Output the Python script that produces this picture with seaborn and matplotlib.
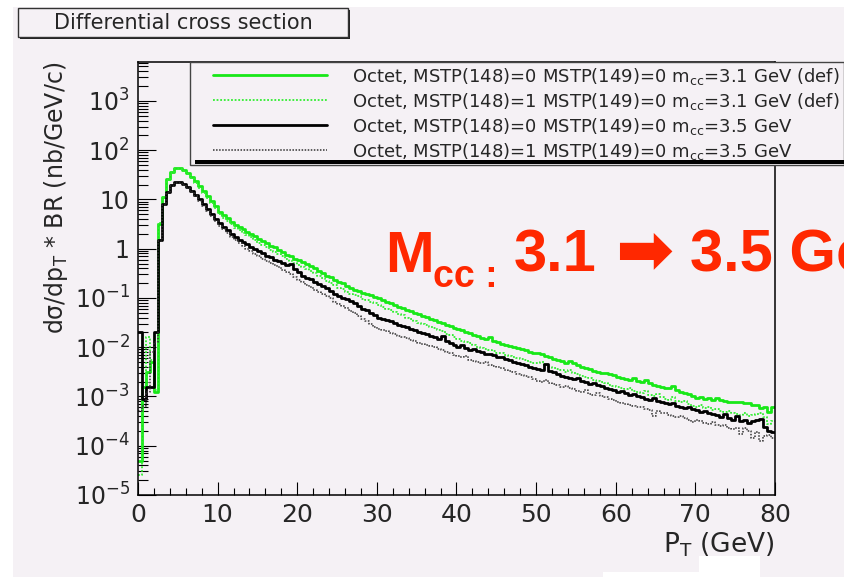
import numpy as np
import pandas as pd
import matplotlib
matplotlib.use("Agg")
import matplotlib.pyplot as plt
from matplotlib.patches import Rectangle
from matplotlib.lines import Line2D
from matplotlib.legend_handler import HandlerLine2D
from matplotlib.ticker import FixedLocator, LogLocator, MultipleLocator, NullFormatter
import seaborn as sns

# pT binning of the histograms (GeV)
pt_min, pt_max, bin_width = 0.0, 80.0, 0.5

# log10 of dsigma/dpT * BR (nb/GeV/c) per 0.5 GeV bin
octet_148_0_m31 = [
    -4.30, -2.80, -2.50, -2.30, -2.90, 0.50, 1.05, 1.42, 1.56, 1.64,
    1.64, 1.60, 1.54, 1.46, 1.37, 1.27, 1.17, 1.06, 0.96, 0.86,
    0.75, 0.68, 0.62, 0.55, 0.49, 0.44, 0.39, 0.34, 0.30, 0.26,
    0.20, 0.16, 0.12, 0.06, 0.03, -0.03, -0.07, -0.13, -0.15, -0.20,
    -0.22, -0.27, -0.32, -0.35, -0.40, -0.46, -0.49, -0.55, -0.58, -0.64,
    -0.68, -0.70, -0.76, -0.80, -0.84, -0.86, -0.90, -0.92, -0.95, -0.98,
    -1.00, -1.05, -1.09, -1.11, -1.15, -1.18, -1.20, -1.24, -1.27, -1.30,
    -1.33, -1.36, -1.39, -1.42, -1.45, -1.48, -1.51, -1.54, -1.57, -1.60,
    -1.63, -1.66, -1.69, -1.72, -1.75, -1.78, -1.81, -1.84, -1.79, -1.87,
    -1.90, -1.93, -1.95, -1.97, -1.99, -2.01, -2.03, -2.06, -2.09, -2.11,
    -2.12, -2.14, -2.17, -2.20, -2.23, -2.25, -2.28, -2.32, -2.28, -2.33,
    -2.37, -2.40, -2.42, -2.45, -2.48, -2.50, -2.52, -2.53, -2.55, -2.57,
    -2.60, -2.62, -2.65, -2.67, -2.63, -2.69, -2.71, -2.66, -2.72, -2.76,
    -2.78, -2.80, -2.82, -2.83, -2.78, -2.86, -2.90, -2.93, -2.95, -2.99,
    -3.03, -3.01, -3.06, -3.03, -3.07, -3.04, -3.08, -3.10, -3.11, -3.11,
    -3.11, -3.12, -3.13, -3.14, -3.18, -3.17, -3.23, -3.21, -3.32, -3.22,
]
octet_148_1_m31 = [
    -4.60, -2.90, -1.80, -2.26, -2.87, 0.52, 1.05, 1.40, 1.54, 1.62,
    1.62, 1.58, 1.51, 1.43, 1.34, 1.24, 1.13, 1.02, 0.92, 0.82,
    0.70, 0.63, 0.56, 0.50, 0.43, 0.38, 0.32, 0.27, 0.23, 0.18,
    0.12, 0.08, 0.03, -0.02, -0.06, -0.11, -0.15, -0.21, -0.24, -0.30,
    -0.33, -0.37, -0.42, -0.46, -0.50, -0.56, -0.60, -0.65, -0.69, -0.74,
    -0.79, -0.82, -0.87, -0.91, -0.95, -0.97, -1.02, -1.05, -1.08, -1.11,
    -1.14, -1.18, -1.22, -1.25, -1.29, -1.33, -1.35, -1.40, -1.42, -1.46,
    -1.50, -1.52, -1.55, -1.58, -1.61, -1.65, -1.68, -1.73, -1.76, -1.80,
    -1.84, -1.87, -1.90, -1.92, -1.96, -1.99, -2.02, -2.04, -2.06, -2.08,
    -2.11, -2.12, -2.15, -2.18, -2.20, -2.22, -2.24, -2.26, -2.29, -2.32,
    -2.33, -2.30, -2.36, -2.40, -2.42, -2.44, -2.47, -2.50, -2.46, -2.52,
    -2.55, -2.58, -2.60, -2.62, -2.66, -2.69, -2.70, -2.73, -2.76, -2.78,
    -2.80, -2.83, -2.85, -2.82, -2.88, -2.91, -2.93, -2.88, -2.96, -2.99,
    -2.94, -3.02, -3.05, -3.07, -3.02, -3.09, -3.12, -3.10, -3.16, -3.19,
    -3.21, -3.18, -3.24, -3.22, -3.27, -3.25, -3.29, -3.31, -3.30, -3.34,
    -3.35, -3.37, -3.34, -3.40, -3.38, -3.36, -3.33, -3.41, -3.55, -3.50,
]
octet_148_0_m35 = [
    -1.69, -3.05, -2.80, -2.80, -1.69, 0.18, 0.90, 1.15, 1.29, 1.36,
    1.36, 1.32, 1.26, 1.18, 1.09, 1.00, 0.91, 0.81, 0.71, 0.61,
    0.52, 0.44, 0.37, 0.30, 0.24, 0.18, 0.13, 0.09, 0.04, 0.00,
    -0.05, -0.09, -0.14, -0.17, -0.22, -0.25, -0.30, -0.33, -0.31, -0.42,
    -0.48, -0.55, -0.59, -0.62, -0.67, -0.72, -0.76, -0.80, -0.85, -0.92,
    -0.97, -1.00, -1.03, -1.06, -1.10, -1.16, -1.22, -1.25, -1.30, -1.34,
    -1.40, -1.42, -1.44, -1.47, -1.51, -1.54, -1.57, -1.59, -1.63, -1.66,
    -1.70, -1.72, -1.74, -1.77, -1.79, -1.83, -1.78, -1.87, -1.92, -1.96,
    -1.99, -1.96, -2.02, -2.05, -2.03, -2.08, -2.10, -2.13, -2.14, -2.16,
    -2.20, -2.19, -2.23, -2.26, -2.30, -2.32, -2.35, -2.37, -2.40, -2.42,
    -2.45, -2.47, -2.35, -2.48, -2.51, -2.55, -2.58, -2.61, -2.63, -2.65,
    -2.62, -2.68, -2.71, -2.74, -2.72, -2.77, -2.79, -2.82, -2.85, -2.87,
    -2.90, -2.88, -2.93, -2.96, -2.94, -2.99, -3.02, -3.05, -3.07, -3.04,
    -3.09, -3.12, -3.13, -3.15, -3.14, -3.19, -3.22, -3.24, -3.21, -3.26,
    -3.28, -3.31, -3.29, -3.33, -3.35, -3.38, -3.42, -3.36, -3.44, -3.47,
    -3.40, -3.49, -3.47, -3.53, -3.50, -3.47, -3.45, -3.62, -3.70, -3.72,
]
octet_148_1_m35 = [
    -3.30, -3.20, -2.90, -2.10, -1.90, 0.15, 0.88, 1.13, 1.27, 1.34,
    1.34, 1.30, 1.23, 1.15, 1.06, 0.96, 0.87, 0.77, 0.67, 0.57,
    0.47, 0.39, 0.31, 0.24, 0.17, 0.11, 0.05, 0.00, -0.05, -0.10,
    -0.15, -0.20, -0.25, -0.29, -0.34, -0.38, -0.43, -0.47, -0.51, -0.57,
    -0.63, -0.67, -0.73, -0.77, -0.83, -0.87, -0.92, -0.97, -1.01, -1.08,
    -1.12, -1.17, -1.21, -1.26, -1.31, -1.37, -1.42, -1.47, -1.53, -1.58,
    -1.63, -1.65, -1.68, -1.71, -1.74, -1.77, -1.80, -1.82, -1.86, -1.88,
    -1.91, -1.93, -1.95, -1.98, -2.00, -2.03, -2.06, -2.09, -2.12, -2.15,
    -2.18, -2.20, -2.17, -2.25, -2.27, -2.29, -2.33, -2.30, -2.36, -2.38,
    -2.40, -2.43, -2.46, -2.48, -2.50, -2.54, -2.56, -2.58, -2.61, -2.65,
    -2.68, -2.70, -2.66, -2.73, -2.74, -2.77, -2.80, -2.78, -2.83, -2.85,
    -2.88, -2.91, -2.86, -2.94, -2.96, -2.92, -3.00, -3.02, -3.05, -3.08,
    -3.12, -3.13, -3.16, -3.18, -3.20, -3.22, -3.21, -3.25, -3.28, -3.40,
    -3.30, -3.34, -3.33, -3.38, -3.40, -3.42, -3.39, -3.44, -3.47, -3.52,
    -3.48, -3.50, -3.53, -3.55, -3.52, -3.57, -3.60, -3.58, -3.63, -3.66,
    -3.64, -3.76, -3.65, -3.70, -3.85, -3.72, -3.90, -3.80, -3.78, -3.84,
]

series_labels = [
    "Octet, MSTP(148)=0 MSTP(149)=0 m$_{cc}$=3.1 GeV (def)",
    "Octet, MSTP(148)=1 MSTP(149)=0 m$_{cc}$=3.1 GeV (def)",
    "Octet, MSTP(148)=0 MSTP(149)=0 m$_{cc}$=3.5 GeV",
    "Octet, MSTP(148)=1 MSTP(149)=0 m$_{cc}$=3.5 GeV",
]
series_colors = ["#18e818", "#30ee30", "black", "#333333"]
series_styles = ["-", (0, (1, 1)), "-", (0, (1, 1))]
series_widths = [2.0, 1.3, 2.0, 1.1]

x_ticks = [0, 10, 20, 30, 40, 50, 60, 70, 80]
x_tick_labels = ["0", "10", "20", "30", "40", "50", "60", "70", "80"]
y_ticks = [1e-5, 1e-4, 1e-3, 1e-2, 1e-1, 1, 10, 1e2, 1e3]
y_tick_labels = ["$10^{-5}$", "$10^{-4}$", "$10^{-3}$", "$10^{-2}$", "$10^{-1}$",
                 "1", "10", "$10^{2}$", "$10^{3}$"]

W, H = 845, 577
bg = "#f5f1f5"

sns.set_style("ticks")
plt.rcParams["font.family"] = ["DejaVu Sans"]
plt.rcParams["mathtext.fontset"] = "dejavusans"
plt.rcParams["mathtext.default"] = "regular"

n_bins = int(round((pt_max - pt_min) / bin_width))
centers = pt_min + bin_width * (np.arange(n_bins) + 0.5)
rows = []
for lab, vals in zip(series_labels, [octet_148_0_m31, octet_148_1_m31,
                                      octet_148_0_m35, octet_148_1_m35]):
    rows.append(pd.DataFrame({"pt": centers, "xsec": np.power(10.0, vals), "series": lab}))
df = pd.concat(rows, ignore_index=True)

fig = plt.figure(figsize=(W / 100, H / 100), dpi=100, facecolor="white")
# page background (pinkish slide area)
fig.add_artist(Rectangle((13 / W, 0), 1 - 13 / W, 1 - 7 / H, transform=fig.transFigure,
                         facecolor=bg, edgecolor="none", zorder=-10))
for x0, y0, x1, y1 in [(603, 572, 760, 577), (699, 556, 760, 577)]:
    fig.add_artist(Rectangle((x0 / W, 1 - y1 / H), (x1 - x0) / W, (y1 - y0) / H,
                             transform=fig.transFigure, facecolor="white",
                             edgecolor="none", zorder=-9))

ax = fig.add_axes([138 / W, 1 - 495 / H, (775 - 138) / W, (495 - 62) / H])
ax.set_facecolor(bg)
ax.set_yscale("log")

for lab, col, ls, lw in zip(series_labels, series_colors, series_styles, series_widths):
    sns.histplot(data=df[df["series"] == lab], x="pt", weights="xsec",
                 binwidth=bin_width, binrange=(pt_min, pt_max),
                 element="step", fill=False, color=col, linestyle=ls, linewidth=lw,
                 label=lab, ax=ax)

ax.set_xlim(pt_min, pt_max)
ax.set_ylim(1e-5, 10 ** 3.79)
ax.xaxis.set_major_locator(FixedLocator(x_ticks))
ax.set_xticklabels(x_tick_labels)
ax.xaxis.set_minor_locator(MultipleLocator(2))
ax.yaxis.set_major_locator(FixedLocator(y_ticks))
ax.set_yticklabels(y_tick_labels)
ax.yaxis.set_minor_locator(LogLocator(base=10, subs=np.arange(2, 10), numticks=30))
ax.yaxis.set_minor_formatter(NullFormatter())
ax.tick_params(axis="both", which="both", direction="in", top=False, right=False,
               width=0.8, color="black")
ax.tick_params(axis="x", which="major", length=9.5, labelsize=18, pad=6)
ax.tick_params(axis="x", which="minor", length=4.7)
ax.tick_params(axis="y", which="major", length=13, labelsize=17, pad=6)
ax.tick_params(axis="y", which="minor", length=7)
for sp in ax.spines.values():
    sp.set_color("black")
    sp.set_linewidth(1.1)

ax.set_xlabel("P$_{T}$ (GeV)", loc="right", fontsize=19, labelpad=2)
ax.set_ylabel("d\u03c3/dp$_{T}$ * BR (nb/GeV/c)", loc="top", fontsize=17, labelpad=3)

handles, labels = ax.get_legend_handles_labels()
leg = ax.legend(handles, labels, loc="upper left", bbox_to_anchor=(190 / W, 1 - 62 / H),
                bbox_transform=fig.transFigure, frameon=True, fancybox=False,
                edgecolor="#444444", facecolor=bg, framealpha=1, fontsize=13,
                borderpad=0.2, borderaxespad=0, labelspacing=0.22,
                handlelength=7.4, handletextpad=1.4,
                handler_map={Line2D: HandlerLine2D(xpad=1.1)})
leg.get_frame().set_linewidth(1.0)
leg.set_zorder(5)
# legend shadow
fig.add_artist(Rectangle((195 / W, 1 - 163.5 / H), 1 - 195 / W, 3.5 / H,
                         transform=fig.transFigure, facecolor="black",
                         edgecolor="none", zorder=4))

# title box
fig.add_artist(Rectangle((20 / W, 1 - 39 / H), 330 / W, 29 / H, transform=fig.transFigure,
                         facecolor="#222222", edgecolor="none", zorder=2))
fig.add_artist(Rectangle((18 / W, 1 - 37 / H), 330 / W, 29 / H, transform=fig.transFigure,
                         facecolor=bg, edgecolor="#333333", linewidth=1.0, zorder=3))
fig.text(183 / W, 1 - 23 / H, "Differential cross section", fontsize=15,
         ha="center", va="center", zorder=4)

# red annotation (runs off the right edge, as in the original slide)
red = "#ff2800"
red_font = dict(fontweight="bold", color=red, family=["Liberation Sans", "DejaVu Sans"],
                va="baseline", ha="left")
fig.text(385 / W, 1 - 272 / H, "M", fontsize=42, **red_font)
fig.text(433 / W, 1 - 287 / H, "cc :", fontsize=27, **red_font)
fig.text(514 / W, 1 - 272 / H, "3.1", fontsize=43, **red_font)
fig.text(615 / W, 1 - 272 / H, "\u27a1", fontsize=50, **red_font)
fig.text(690 / W, 1 - 272 / H, "3.5 GeV", fontsize=43, **red_font)

fig.savefig("out.png", dpi=100, facecolor="white")
